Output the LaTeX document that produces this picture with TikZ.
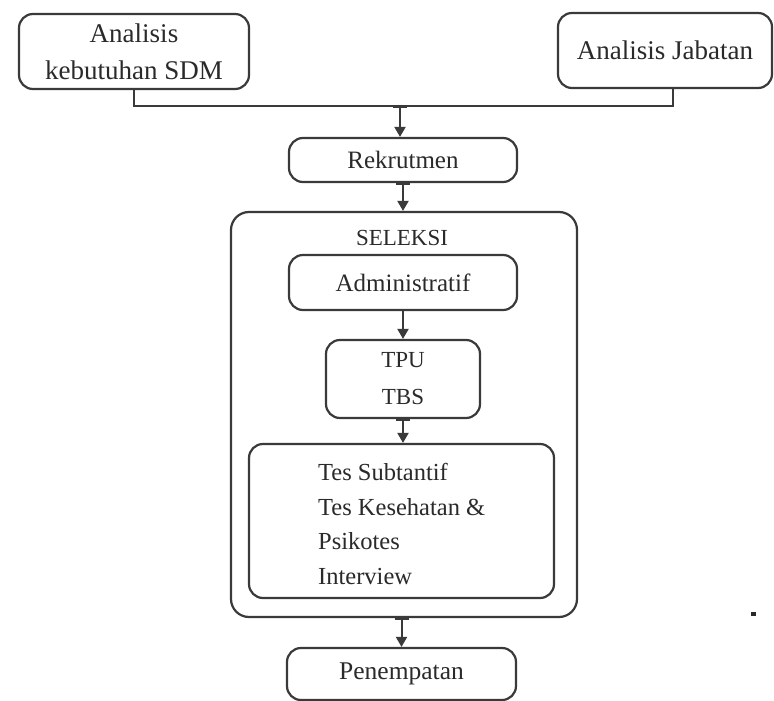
\documentclass[tikz,border=0pt]{standalone}
\usepackage{fontspec}
\setmainfont{Liberation Serif}
\usetikzlibrary{arrows.meta}
\definecolor{ink}{HTML}{3A3A3A}
\definecolor{txt}{HTML}{2A2A2A}
\begin{document}
\begin{tikzpicture}[x=1pt,y=-1pt,
  box/.style={draw=ink, line width=2.2pt, rounded corners=14pt, inner sep=0pt, text=txt,
    font=\fontsize{25}{36}\selectfont, align=center},
  conn/.style={draw=ink, line width=2pt},
  arr/.style={conn, {Bar[width=14pt,line width=2pt]}-{Triangle[width=11pt,length=10pt]}},
  arrn/.style={conn, -{Triangle[width=11pt,length=10pt]}},
  lbl/.style={text=txt, font=\fontsize{23}{34}\selectfont, inner sep=0pt}]
\useasboundingbox (0,0) rectangle (774,701);
\fill[white] (0,0) rectangle (774,701);

\node[box, minimum width=230pt, minimum height=75pt, font=\fontsize{27}{37}\selectfont] (ana) at (134,51.5) {Analisis\\kebutuhan SDM};
\node[box, minimum width=214pt, minimum height=75pt, font=\fontsize{27}{37}\selectfont] (jab) at (665,50.5) {Analisis Jabatan};
\coordinate (jn) at (400,106);
\coordinate (jr) at (673,88);
\draw[conn] (ana.south) |- (jn) -| (jr);

\node[box, minimum width=228pt, minimum height=44pt] (rek) at (403,160) {Rekrutmen};
\draw[arr] (jn) -- (jn |- rek.north);

\node[box, minimum width=346pt, minimum height=405pt, rounded corners=18pt] (sel) at (404,414.5) {};
\draw[arr] (rek.south) -- (rek.south |- sel.north);
\node[lbl] (sl) at (402,238) {SELEKSI};

\node[box, minimum width=228pt, minimum height=55pt] (adm) at (403,282.5) {Administratif};
\node[box, minimum width=154pt, minimum height=78pt, font=\fontsize{23}{37}\selectfont] (tpu) at (403,379) {TPU\\TBS};
\draw[arrn] (adm.south) -- (adm.south |- tpu.north);

\node[box, minimum width=305pt, minimum height=154pt] (tes) at (401.5,521) {};
\draw[arr] (tpu.south) -- (tpu.south |- tes.north);
\node[lbl, anchor=west, align=left, font=\fontsize{24.5}{34.5}\selectfont] (tt) at (318,524)
  {Tes Subtantif\\Tes Kesehatan \&\\Psikotes\\Interview};

\node[box, minimum width=229pt, minimum height=52pt, font=\fontsize{25.5}{36}\selectfont] (pen) at (401.5,674) {Penempatan};
\draw[arr] (sel.south -| pen.north) -- (pen.north);

\node[fill=txt, minimum width=5pt, minimum height=4pt, inner sep=0pt] (dot) at (753,614) {};
\end{tikzpicture}
\end{document}
